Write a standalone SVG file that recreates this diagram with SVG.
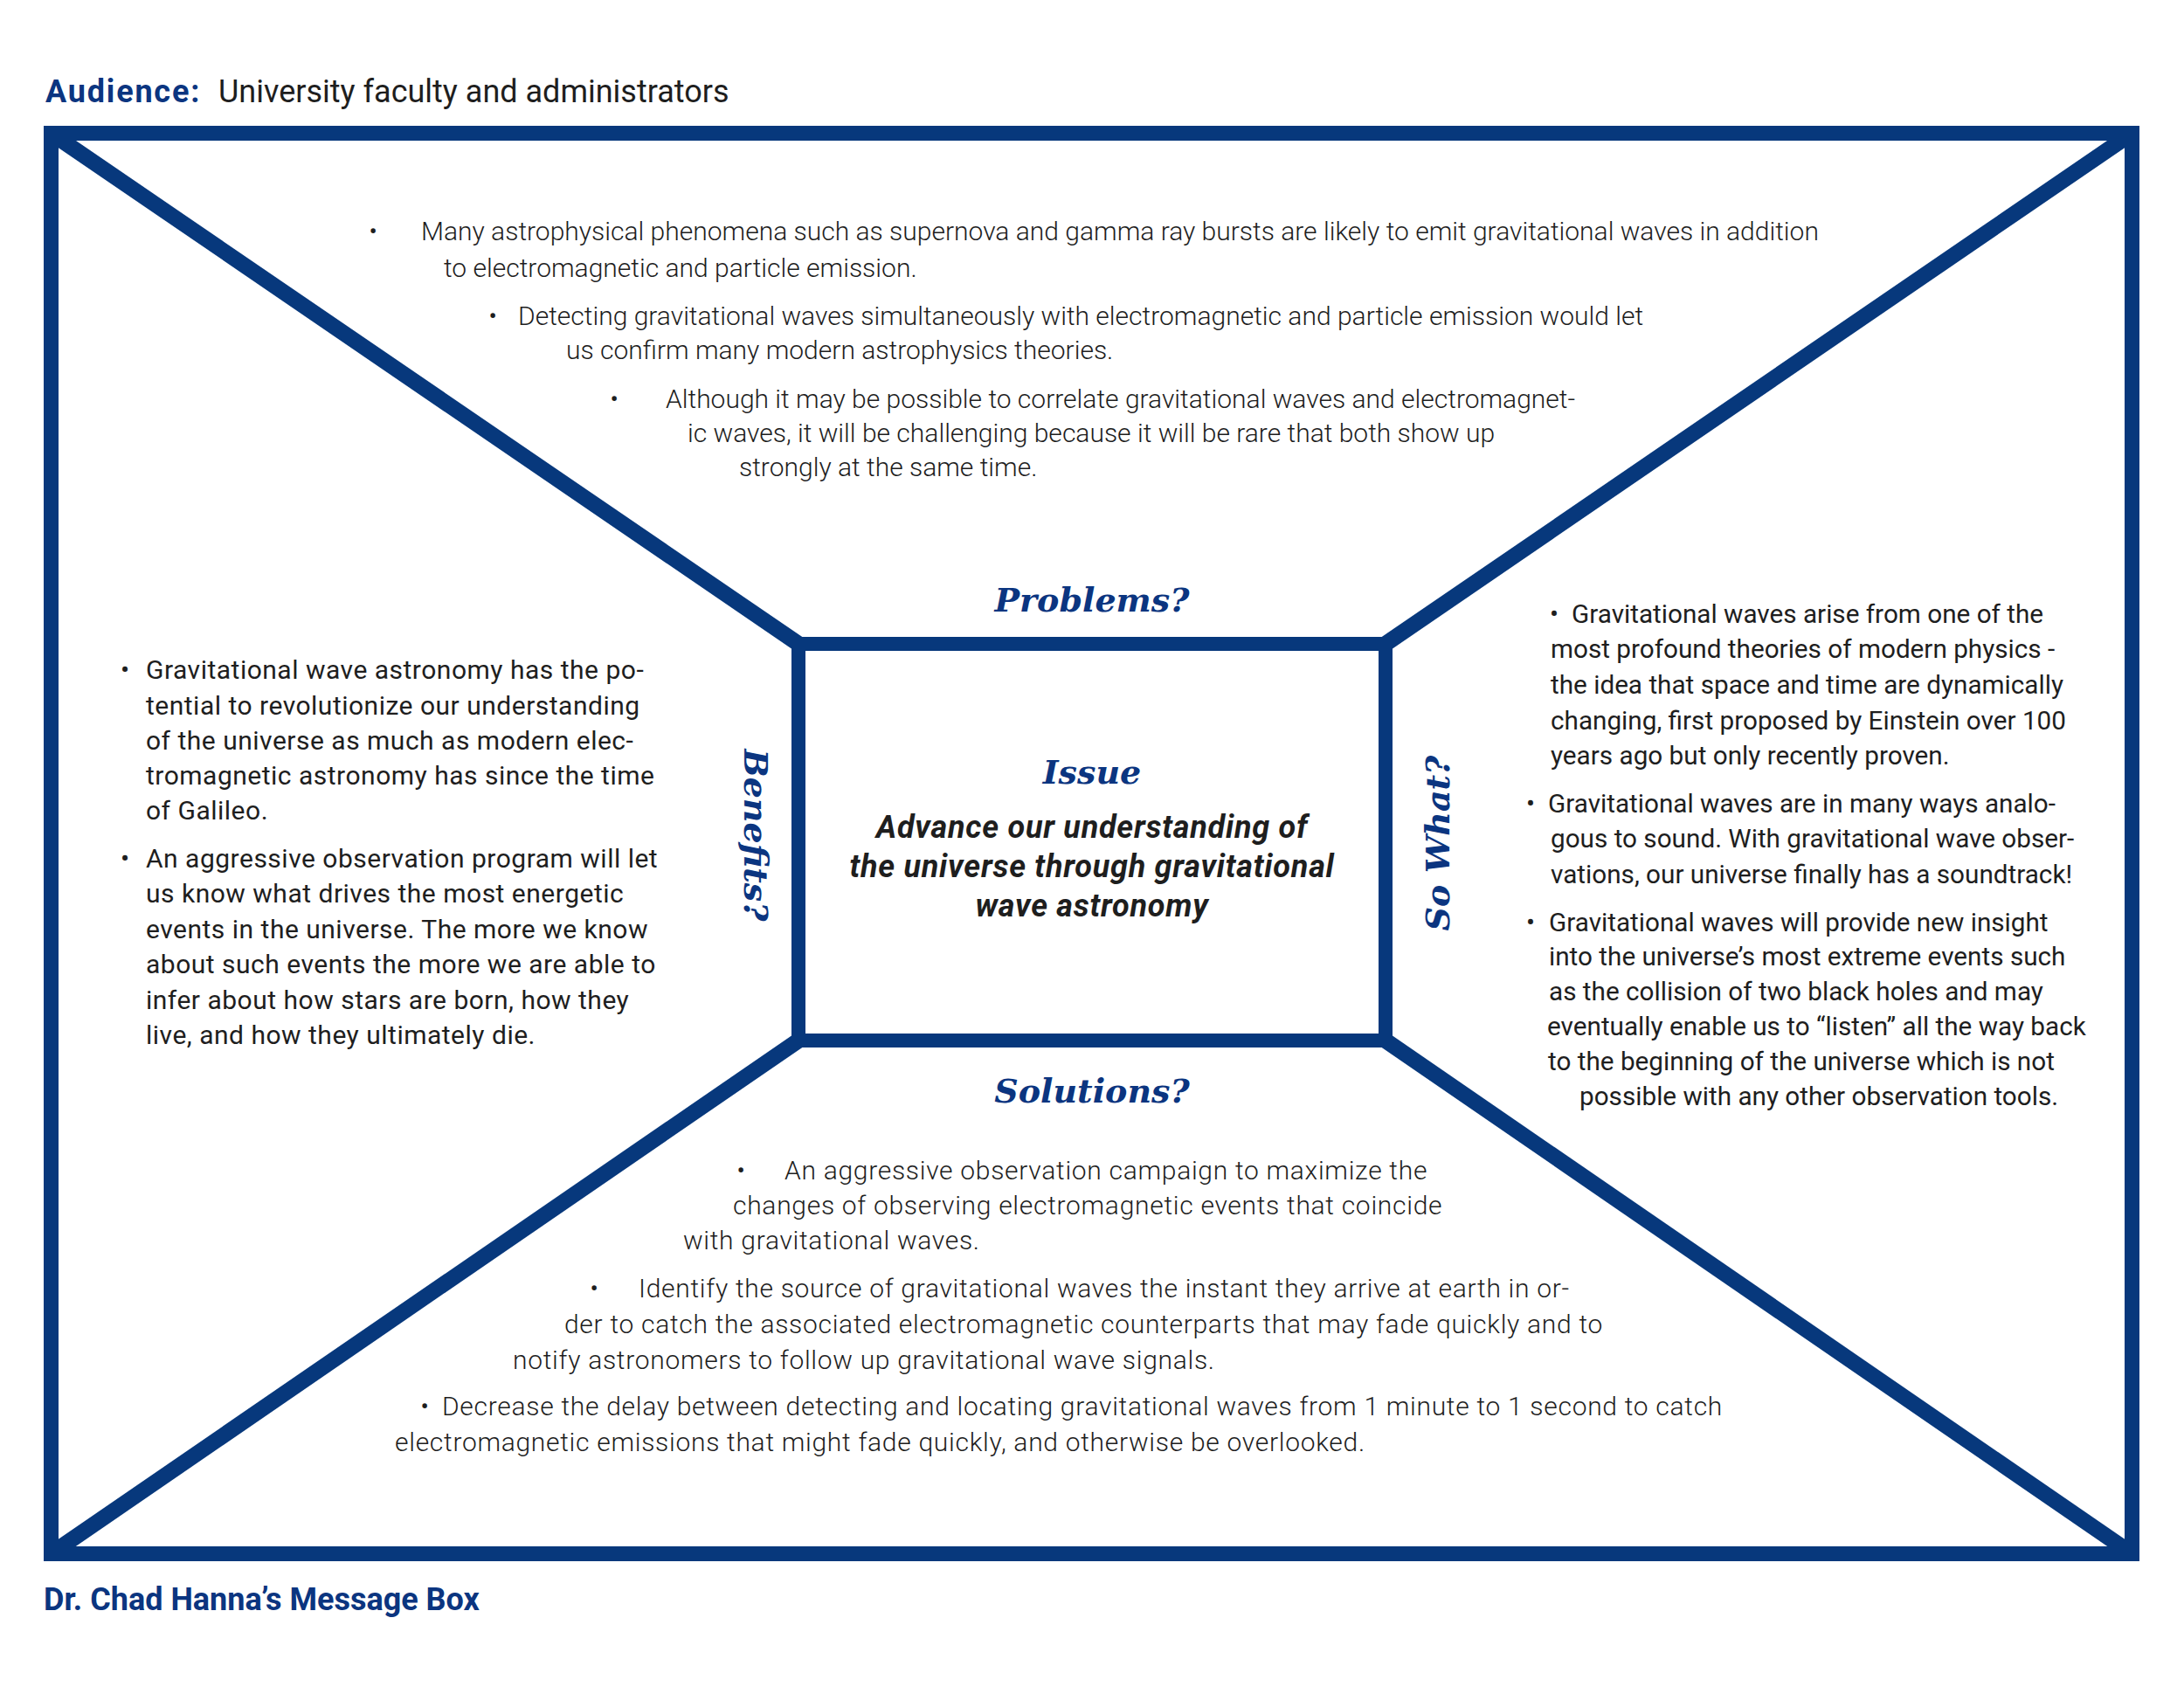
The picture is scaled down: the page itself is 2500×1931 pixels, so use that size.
<svg xmlns="http://www.w3.org/2000/svg" width="2500" height="1931" viewBox="0 0 2500 1931">
<style>
  .frame { fill: none; stroke: #07387c; stroke-width: 17; }
  .inner { fill: #ffffff; stroke: #07387c; stroke-width: 16; }
  .diag { stroke: #07387c; stroke-width: 18; stroke-linecap: butt; }
  .hdr { font-family: Roboto, "Liberation Sans", sans-serif; font-size: 36px; }
  .blue { fill: #0b3580; }
  .label { font-family: "DejaVu Serif", "Liberation Serif", serif; font-weight: bold; font-style: italic; font-size: 38px; fill: #0b3580; text-anchor: middle; }
  .issue { font-family: Roboto, "Liberation Sans", sans-serif; font-weight: bold; font-style: italic; font-size: 36px; letter-spacing: 0.75px; fill: #1e1e1e; text-anchor: middle; }
  .lt { font-family: Roboto, "Liberation Sans", sans-serif; font-weight: 300; font-size: 30px; fill: #1e1e1e; }
  .lt2 { font-family: Roboto, "Liberation Sans", sans-serif; font-weight: 300; font-size: 30px; letter-spacing: 0.7px; fill: #1e1e1e; }
  .rgL { font-family: Roboto, "Liberation Sans", sans-serif; font-weight: 400; font-size: 30px; letter-spacing: 0.5px; fill: #1e1e1e; }
  .rg { font-family: Roboto, "Liberation Sans", sans-serif; font-weight: 400; font-size: 29.7px; fill: #1e1e1e; }
  .bl { text-anchor: middle; letter-spacing: 0; }
</style>

<g id="header">
  <text class="hdr blue" x="52" y="117" font-weight="bold" letter-spacing="1.8">Audience:</text>
  <text class="hdr" x="250" y="117" fill="#1e1e1e">University faculty and administrators</text>
</g>

<g id="connectors">
  <line class="diag" x1="58.5" y1="152.5" x2="914" y2="737"/>
  <line class="diag" x1="2440.5" y1="152.5" x2="1586" y2="737"/>
  <line class="diag" x1="58.5" y1="1778.5" x2="914" y2="1191"/>
  <line class="diag" x1="2440.5" y1="1778.5" x2="1586" y2="1191"/>
</g>

<g id="outer-frame">
  <rect class="frame" x="58.5" y="152.5" width="2382" height="1626"/>
</g>

<g id="issue">
  <rect class="inner" x="914" y="737" width="672" height="454"/>
  <text class="label" x="1250" y="897">Issue</text>
  <text class="issue" x="1250" y="959">Advance our understanding of</text>
  <text class="issue" x="1250" y="1004">the universe through gravitational</text>
  <text class="issue" x="1250" y="1049">wave astronomy</text>
</g>

<g id="problems">
  <text class="label" x="1250" y="700">Problems?</text>
  <text class="lt bl" x="427" y="275">•</text>
  <text class="lt" x="482" y="275">Many astrophysical phenomena such as supernova and gamma ray bursts are likely to emit gravitational waves in addition</text>
  <text class="lt" x="508" y="317">to electromagnetic and particle emission.</text>
  <text class="lt bl" x="564" y="372">•</text>
  <text class="lt" x="593" y="372">Detecting gravitational waves simultaneously with electromagnetic and particle emission would let</text>
  <text class="lt" x="648" y="411">us confirm many modern astrophysics theories.</text>
  <text class="lt bl" x="703" y="467">•</text>
  <text class="lt" x="762" y="467">Although it may be possible to correlate gravitational waves and electromagnet-</text>
  <text class="lt" x="787" y="506">ic waves, it will be challenging because it will be rare that both show up</text>
  <text class="lt" x="846" y="545">strongly at the same time.</text>
</g>

<g id="benefits">
  <text class="label" transform="translate(852 956) rotate(90)" x="0" y="0">Benefits?</text>
  <text class="rgL bl" x="143" y="777">•</text>
  <text class="rgL" x="167" y="777">Gravitational wave astronomy has the po-</text>
  <text class="rgL" x="167" y="817.5">tential to revolutionize our understanding</text>
  <text class="rgL" x="167" y="858">of the universe as much as modern elec-</text>
  <text class="rgL" x="167" y="898">tromagnetic astronomy has since the time</text>
  <text class="rgL" x="167" y="938">of Galileo.</text>
  <text class="rgL bl" x="143" y="993">•</text>
  <text class="rgL" x="167" y="993">An aggressive observation program will let</text>
  <text class="rgL" x="167" y="1033">us know what drives the most energetic</text>
  <text class="rgL" x="167" y="1073.5">events in the universe. The more we know</text>
  <text class="rgL" x="167" y="1114">about such events the more we are able to</text>
  <text class="rgL" x="167" y="1154.5">infer about how stars are born, how they</text>
  <text class="rgL" x="167" y="1195">live, and how they ultimately die.</text>
</g>

<g id="so-what">
  <text class="label" transform="translate(1659 965) rotate(-90)" x="0" y="0">So What?</text>
  <text class="rg bl" x="1779" y="713">•</text>
  <text class="rg" x="1799" y="713">Gravitational waves arise from one of the</text>
  <text class="rg" x="1775" y="753">most profound theories of modern physics -</text>
  <text class="rg" x="1775" y="794">the idea that space and time are dynamically</text>
  <text class="rg" x="1775" y="834.5">changing, first proposed by Einstein over 100</text>
  <text class="rg" x="1775" y="875">years ago but only recently proven.</text>
  <text class="rg bl" x="1752" y="930">•</text>
  <text class="rg" x="1772" y="930">Gravitational waves are in many ways analo-</text>
  <text class="rg" x="1775" y="970">gous to sound. With gravitational wave obser-</text>
  <text class="rg" x="1775" y="1011">vations, our universe finally has a soundtrack!</text>
  <text class="rg bl" x="1752" y="1066">•</text>
  <text class="rg" x="1773" y="1066">Gravitational waves will provide new insight</text>
  <text class="rg" x="1773" y="1105">into the universe’s most extreme events such</text>
  <text class="rg" x="1773" y="1145">as the collision of two black holes and may</text>
  <text class="rg" x="1771" y="1185">eventually enable us to “listen” all the way back</text>
  <text class="rg" x="1772" y="1225">to the beginning of the universe which is not</text>
  <text class="rg" x="1808" y="1265">possible with any other observation tools.</text>
</g>

<g id="solutions">
  <text class="label" x="1250" y="1262">Solutions?</text>
  <text class="lt2 bl" x="848" y="1350">•</text>
  <text class="lt2" x="898" y="1350">An aggressive observation campaign to maximize the</text>
  <text class="lt2" x="839" y="1390">changes of observing electromagnetic events that coincide</text>
  <text class="lt2" x="782" y="1430">with gravitational waves.</text>
  <text class="lt2 bl" x="680" y="1485">•</text>
  <text class="lt2" x="731" y="1485">Identify the source of gravitational waves the instant they arrive at earth in or-</text>
  <text class="lt2" x="646" y="1526">der to catch the associated electromagnetic counterparts that may fade quickly and to</text>
  <text class="lt2" x="587" y="1567">notify astronomers to follow up gravitational wave signals.</text>
  <text class="lt2 bl" x="486" y="1620">•</text>
  <text class="lt2" x="506" y="1620">Decrease the delay between detecting and locating gravitational waves from 1 minute to 1 second to catch</text>
  <text class="lt2" x="452" y="1661">electromagnetic emissions that might fade quickly, and otherwise be overlooked.</text>
</g>

<g id="footer">
  <text class="hdr blue" x="50" y="1843" font-weight="bold">Dr. Chad Hanna’s Message Box</text>
</g>
</svg>
